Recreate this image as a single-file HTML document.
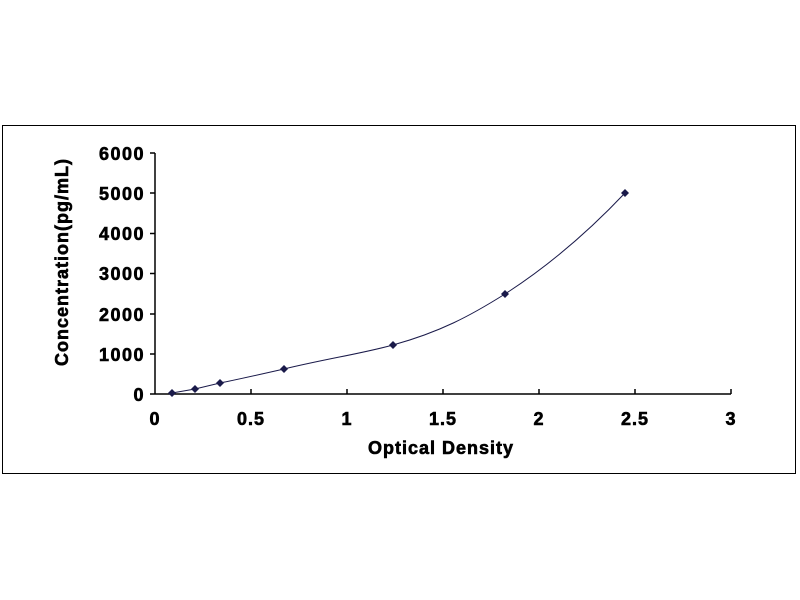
<!DOCTYPE html>
<html><head><style>body{margin:0;background:#fff}svg{display:block}</style></head><body>
<svg width="800" height="600" xmlns="http://www.w3.org/2000/svg" font-family="Liberation Sans, Arial, sans-serif" font-weight="bold">
<rect x="0" y="0" width="800" height="600" fill="#fff"/>
<rect x="2.5" y="125.5" width="793" height="348" fill="none" stroke="#000" stroke-width="1"/>
<g stroke="#000" stroke-width="1.5" fill="none">
<line x1="155" y1="153" x2="155" y2="394"/>
<line x1="155" y1="394" x2="731" y2="394"/>
<line x1="150" y1="153" x2="155" y2="153"/>
<line x1="150" y1="193" x2="155" y2="193"/>
<line x1="150" y1="233.5" x2="155" y2="233.5"/>
<line x1="150" y1="273.5" x2="155" y2="273.5"/>
<line x1="150" y1="314" x2="155" y2="314"/>
<line x1="150" y1="354" x2="155" y2="354"/>
<line x1="150" y1="394" x2="155" y2="394"/>
<line x1="251" y1="389" x2="251" y2="394"/>
<line x1="347" y1="389" x2="347" y2="394"/>
<line x1="443" y1="389" x2="443" y2="394"/>
<line x1="539" y1="389" x2="539" y2="394"/>
<line x1="635" y1="389" x2="635" y2="394"/>
<line x1="731" y1="389" x2="731" y2="394"/>
</g>
<g font-size="18" text-anchor="end" fill="#000" stroke="#000" stroke-width="0.6" letter-spacing="1.5">
<text x="145" y="160">6000</text><text x="145" y="200">5000</text><text x="145" y="240">4000</text>
<text x="145" y="280">3000</text><text x="145" y="321">2000</text><text x="145" y="361">1000</text><text x="145" y="401">0</text>
</g>
<g font-size="18" text-anchor="middle" fill="#000" stroke="#000" stroke-width="0.6" letter-spacing="1">
<text x="155" y="425">0</text><text x="251" y="425">0.5</text><text x="347" y="425">1</text>
<text x="443" y="425">1.5</text><text x="539" y="425">2</text><text x="635" y="425">2.5</text><text x="731" y="425">3</text>
<text x="441" y="454">Optical Density</text>
<text transform="translate(68,262) rotate(-90)">Concentration(pg/mL)</text>
</g>
<path d="M172,393 L195,389 L220,383 C240,379 262,374 284,369 C330,358 360,354 393,345 C440,332 470,316 505,294 C550,265 590,230 625,193" fill="none" stroke="#1a1a4a" stroke-width="1"/>
<g fill="#1a1a4a">
<path d="M172,389l4,4l-4,4l-4,-4z"/>
<path d="M195,385l4,4l-4,4l-4,-4z"/>
<path d="M220,379l4,4l-4,4l-4,-4z"/>
<path d="M284,365l4,4l-4,4l-4,-4z"/>
<path d="M393,341l4,4l-4,4l-4,-4z"/>
<path d="M505,290l4,4l-4,4l-4,-4z"/>
<path d="M625,189l4,4l-4,4l-4,-4z"/>
</g>
</svg>
</body></html>
